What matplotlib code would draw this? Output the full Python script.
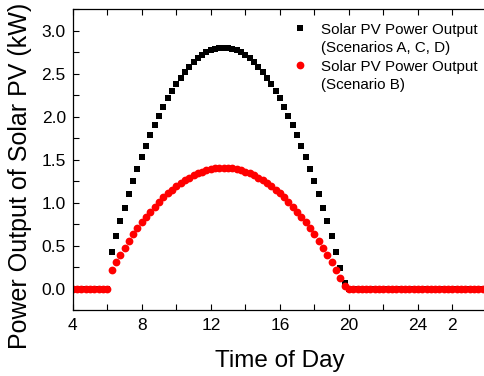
import matplotlib
matplotlib.use('Agg')
import matplotlib.pyplot as plt
from matplotlib.lines import Line2D
import numpy as np

plt.rcParams['font.family'] = ['Liberation Sans', 'DejaVu Sans']

# time of day in hours, 15 min steps (values past 24 are the next morning)
hours = np.arange(4.0, 28.01, 0.25)

night_am = [0.0] * 9          # 4:00 .. 6:00
night_pm = [0.0] * 33         # 20:00 .. 4:00 next day

# 6:15 .. 19:45
day_acd = [0.43, 0.61, 0.78, 0.94, 1.10, 1.25, 1.39, 1.53, 1.66, 1.78, 1.90,
           2.01, 2.11, 2.21, 2.30, 2.38, 2.45, 2.52, 2.58, 2.63, 2.68, 2.72,
           2.75, 2.77, 2.79, 2.80, 2.80,
           2.80, 2.79, 2.77, 2.75, 2.72, 2.68, 2.63, 2.58, 2.52, 2.45, 2.38,
           2.30, 2.21, 2.11, 2.01, 1.90, 1.78, 1.66, 1.53, 1.39, 1.25, 1.10,
           0.94, 0.78, 0.61, 0.43, 0.24, 0.06]
day_b = [0.22, 0.31, 0.39, 0.47, 0.55, 0.63, 0.70, 0.77, 0.83, 0.89, 0.95,
         1.01, 1.06, 1.11, 1.15, 1.19, 1.23, 1.26, 1.29, 1.32, 1.34, 1.36,
         1.38, 1.39, 1.40, 1.40, 1.40,
         1.40, 1.40, 1.39, 1.38, 1.36, 1.34, 1.32, 1.29, 1.26, 1.23, 1.19,
         1.15, 1.11, 1.06, 1.01, 0.95, 0.89, 0.83, 0.77, 0.70, 0.63, 0.55,
         0.47, 0.39, 0.31, 0.22, 0.12, 0.03]

pv_acd = night_am + day_acd + night_pm
pv_b = night_am + day_b + night_pm

xticks = [4, 6, 8, 10, 12, 14, 16, 18, 20, 22, 24, 26]
xticklabels = ['4', '', '8', '', '12', '', '16', '', '20', '', '24', '2']

fig = plt.figure(figsize=(4.85, 3.76), dpi=100)
ax = fig.add_axes([0.150, 0.1755, 0.854, 0.8005])

h1, = ax.plot(hours, pv_acd, 's', color='black', ms=3.9, mew=0)
h2, = ax.plot(hours, pv_b, 'o', color='red', ms=5.6, mew=0)

ax.set_xlim(4, 28)
ax.set_ylim(-0.25, 3.25)
ax.set_xticks(xticks)
ax.set_xticklabels(xticklabels)
ax.set_yticks([0.0, 0.5, 1.0, 1.5, 2.0, 2.5, 3.0])
ax.set_yticks(np.arange(-0.25, 3.3, 0.25), minor=True)
ax.tick_params(which='both', direction='in', top=True, labelsize=12.5,
               length=4, width=0.8, pad=5)
ax.tick_params(axis='x', pad=6)
for s in ax.spines.values():
    s.set_linewidth(0.9)

ax.set_xlabel('Time of Day', fontsize=17.5, labelpad=12)
ax.set_ylabel('Power Output of Solar PV (kW)', fontsize=18)
ax.yaxis.set_label_coords(-0.098, 0.447)

# legend: marker sits on the first line of each two-line label
blank = Line2D([], [], linestyle='none', marker=None)
ax.legend([h1, blank, h2, blank],
          ['Solar PV Power Output', '(Scenarios A, C, D)',
           'Solar PV Power Output', '(Scenario B)'],
          loc='upper left', bbox_to_anchor=(0.516, 0.975), frameon=False,
          fontsize=10.9, handletextpad=0.9, labelspacing=0.3,
          handlelength=1.0, borderaxespad=0)

fig.savefig('out.png', dpi=100)
